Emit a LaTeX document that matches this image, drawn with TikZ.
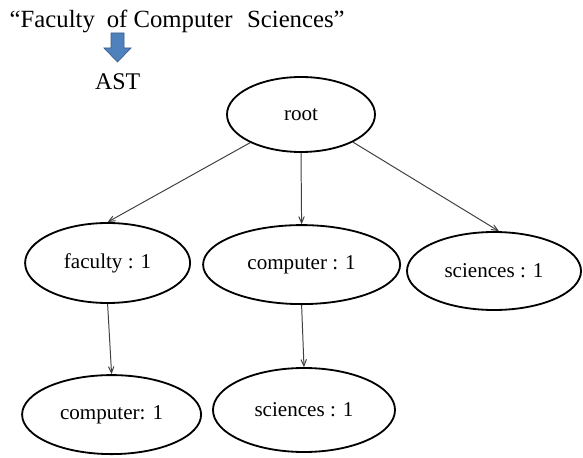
\documentclass[tikz,border=0pt]{standalone}
\usepackage{fontspec}
\setmainfont{Liberation Serif}
\usetikzlibrary{arrows,shapes}
\definecolor{astblue}{HTML}{4F81BD}
\definecolor{astedge}{HTML}{385D8A}
\tikzstyle{tnode}=[ellipse,draw=black,line width=1.3pt,inner sep=0pt,font=\fontsize{15}{18}\selectfont]
\tikzstyle{tedge}=[->,>=angle 45,draw=black!75,line width=0.7pt]

\begin{document}
\begin{tikzpicture}[tedge]
\useasboundingbox (0,0) rectangle (14.575,11.425);
\node[anchor=base,font=\fontsize{17.6}{20}\selectfont] (query) at (4.43,10.74) {``Faculty\hspace{4pt} of Computer\hspace{6pt} Sciences''};
\filldraw[-,fill=astblue,draw=astedge,line width=0.5pt] (2.775,10.6)--(3.1,10.6)--(3.1,10.225)--(3.275,10.225)--(2.9375,9.875)--(2.6,10.225)--(2.775,10.225)--cycle;
\node[anchor=base,font=\fontsize{17}{20}\selectfont] (ast) at (2.94,9.175) {AST};
\node[tnode,minimum width=3.7cm,minimum height=1.875cm] (root) at (7.525,8.5625) {root};
\node[tnode,minimum width=4.125cm,minimum height=2cm] (faculty) at (2.69,4.85) {faculty : 1};
\node[tnode,minimum width=4.925cm,minimum height=1.975cm] (comp) at (7.54,4.81) {computer : 1};
\node[tnode,minimum width=4.35cm,minimum height=1.95cm] (sci) at (12.35,4.65) {sciences : 1};
\node[tnode,minimum width=4.475cm,minimum height=1.975cm] (comptwo) at (2.79,1.06) {computer: 1};
\node[tnode,minimum width=4.55cm,minimum height=2.1cm] (scitwo) at (7.6,1.175) {sciences : 1};
\draw (root.209)--(faculty.north);
\draw (root.south)--(comp.north);
\draw (root.332)--(sci.83);
\draw (faculty.south)--(comptwo.north);
\draw (comp.south)--(scitwo.north);
\end{tikzpicture}
\end{document}
